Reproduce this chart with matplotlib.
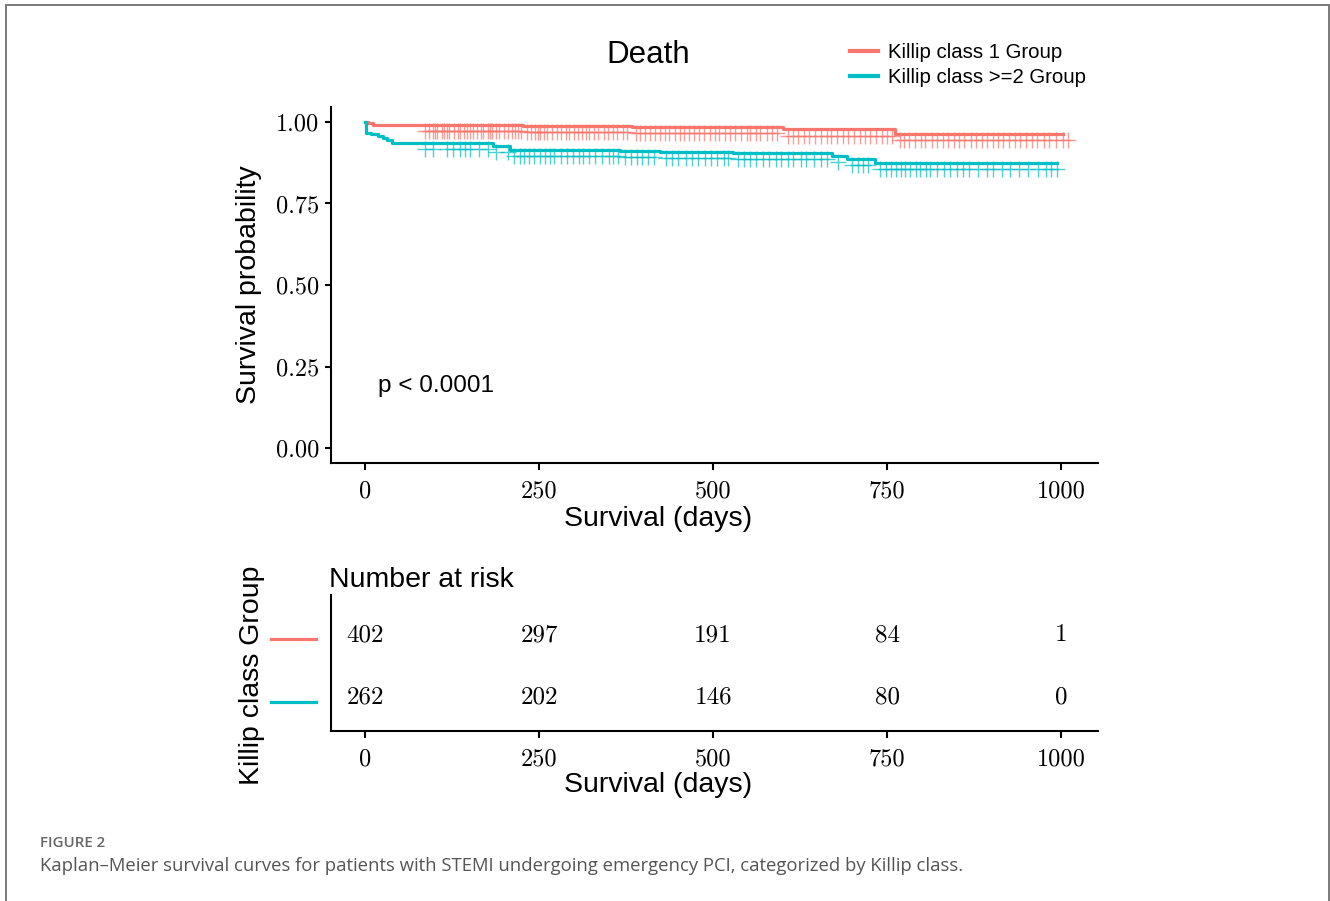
import numpy as np
import matplotlib
matplotlib.use("Agg")
import matplotlib.pyplot as plt
import matplotlib.transforms as mtransforms
from matplotlib.lines import Line2D
from matplotlib.patches import Rectangle

RED = "#F8766D"
TEAL = "#00BFC4"
SANS = "Liberation Sans"
SERIF = "cmr10"

# Kaplan-Meier steps
k1_times = [0, 4, 12, 227, 383, 601, 761, 1003]
k1_surv = [1.0, 0.996, 0.992, 0.988, 0.985, 0.977, 0.964, 0.964]
k2_times = [0, 2, 8, 18, 26, 32, 38, 184, 208, 366, 424, 529, 671, 692, 733, 994]
k2_surv = [1.0, 0.966, 0.962, 0.957, 0.952, 0.945, 0.935, 0.927, 0.915, 0.912,
           0.909, 0.905, 0.897, 0.887, 0.875, 0.875]

# censoring times (estimated from the + marks)
k1_cens = [86, 92, 97, 101, 104, 110, 113, 117, 121, 128, 133, 137, 142, 146, 150, 155,
           161, 166, 170, 176, 180, 183, 188, 192, 199, 205, 211, 216, 220, 224, 233,
           239, 244, 248, 251, 257, 262, 268, 275, 281, 288, 293, 300, 306, 311, 318,
           322, 329, 335, 343, 349, 356, 362, 370, 376, 389, 395, 402, 410, 417, 423,
           431, 437, 445, 452, 458, 465, 473, 480, 487, 495, 503, 509, 517, 524, 532,
           540, 548, 553, 561, 568, 577, 585, 592, 607, 615, 622, 630, 638, 646, 655,
           663, 670, 678, 687, 694, 703, 711, 718, 726, 734, 742, 750, 757, 768, 774,
           781, 790, 798, 805, 814, 822, 831, 838, 846, 853, 861, 870, 877, 886, 893,
           902, 910, 917, 925, 934, 941, 950, 958, 966, 975, 983, 992, 1003, 1010]
k2_cens = [86, 97, 118, 127, 136, 143, 150, 163, 176, 188, 205, 214, 222, 228, 236,
           243, 251, 258, 266, 272, 281, 290, 298, 307, 313, 322, 330, 341, 350, 356,
           364, 373, 382, 390, 398, 407, 415, 432, 441, 450, 461, 470, 478, 489, 497,
           506, 515, 522, 536, 545, 553, 562, 571, 580, 590, 598, 607, 615, 626, 634,
           645, 655, 663, 679, 700, 708, 716, 722, 740, 748, 755, 763, 770, 776, 783,
           791, 797, 806, 812, 821, 832, 840, 851, 859, 868, 880, 894, 902, 915, 926,
           940, 952, 967, 978, 986, 994]

risk_times = [0, 250, 500, 750, 1000]
risk_k1 = [402, 297, 191, 84, 1]
risk_k2 = [262, 202, 146, 80, 0]

group_labels = ["Killip class 1 Group", "Killip class >=2 Group"]
y_ticks = [0.0, 0.25, 0.5, 0.75, 1.0]
y_ticklabels = ["0.00", "0.25", "0.50", "0.75", "1.00"]
x_ticks = [0, 250, 500, 750, 1000]
x_ticklabels = ["0", "250", "500", "750", "1000"]


def surv_at(times, surv, t):
    idx = np.searchsorted(times, t, side="right") - 1
    return np.array(surv)[idx]


def style_axes(ax):
    for s in ["top", "right"]:
        ax.spines[s].set_visible(False)
    for s in ["left", "bottom"]:
        ax.spines[s].set_linewidth(1.5)
    ax.tick_params(width=1.5, length=4.5, pad=4, labelsize=17.5)
    ax.tick_params(axis="x", length=5, pad=7.5)
    ax.set_xticks(x_ticks)
    ax.set_xticklabels(x_ticklabels, fontname=SERIF)


fig = plt.figure(figsize=(13.3, 9.01), dpi=100)

# main survival panel
ax = fig.add_axes([331 / 1330, 1 - 463 / 901, 767 / 1330, 356 / 901])
style_axes(ax)
ax.set_xlim(-49, 1053)
ax.set_ylim(-0.046, 1.046)
ax.set_yticks(y_ticks)
ax.set_yticklabels(y_ticklabels, fontname=SERIF)

shift = mtransforms.ScaledTranslation(0, -4.5 / 72, fig.dpi_scale_trans)
for times, surv, cens, col in [(k1_times, k1_surv, k1_cens, RED),
                               (k2_times, k2_surv, k2_cens, TEAL)]:
    ax.plot(cens, surv_at(times, surv, cens), "+", color=col, alpha=0.7,
            markersize=11.5, markeredgewidth=1.0, transform=ax.transData + shift)
    ax.step(times, surv, where="post", color=col, lw=2.3, zorder=3)

ax.text(18, 0.19, "p < 0.0001", fontname=SANS, fontsize=17.5, va="center", ha="left")
fig.text(658 / 1330, 1 - 519 / 901, "Survival (days)", fontname=SANS, fontsize=20.5,
         ha="center", va="center")
fig.text(249 / 1330, 1 - 285 / 901, "Survival probability", fontname=SANS,
         fontsize=20.5, rotation=90, ha="center", va="center")
fig.text(648 / 1330, 1 - 55 / 901, "Death", fontname=SANS, fontsize=22.5,
         ha="center", va="center")

handles = [Line2D([], [], color=RED, lw=3), Line2D([], [], color=TEAL, lw=3)]
fig.legend(handles, group_labels, loc="center left",
           bbox_to_anchor=(840 / 1330, 1 - 65 / 901), frameon=False,
           prop={"family": SANS, "size": 14.7}, handlelength=1.35,
           handletextpad=0.5, labelspacing=0.3, borderpad=0)

# number at risk table
axr = fig.add_axes([331 / 1330, 1 - 731 / 901, 767 / 1330, 136 / 901])
style_axes(axr)
axr.set_xlim(-49, 1053)
axr.set_ylim(0.47, 2.64)
axr.set_yticks([])
for row, counts in [(2, risk_k1), (1, risk_k2)]:
    for t, n in zip(risk_times, counts):
        axr.text(t, row, str(n), fontname=SERIF, fontsize=18, ha="center", va="center")
blend = mtransforms.blended_transform_factory(axr.transAxes, axr.transData)
axr.plot([-0.078, -0.02], [1.94, 1.94], color=RED, lw=2.3, transform=blend, clip_on=False)
axr.plot([-0.078, -0.02], [0.94, 0.94], color=TEAL, lw=2.3, transform=blend, clip_on=False)
axr.set_title("Number at risk", loc="left", fontname=SANS, fontsize=20.5, pad=6, x=-0.003)
fig.text(658 / 1330, 1 - 785 / 901, "Survival (days)", fontname=SANS, fontsize=20.5,
         ha="center", va="center")
fig.text(252 / 1330, 1 - 675 / 901, "Killip class Group", fontname=SANS,
         fontsize=20.5, rotation=90, ha="center", va="center")

# caption
fig.text(40 / 1330, 1 - 843 / 901, "FIGURE 2", fontname="Open Sans", fontsize=10.8,
         fontweight="semibold", color="#666666", ha="left", va="center")
fig.text(40 / 1330, 1 - 866 / 901,
         "Kaplan\u2013Meier survival curves for patients with STEMI undergoing "
         "emergency PCI, categorized by Killip class.",
         fontname="Open Sans", fontsize=13.35, color="#555555", ha="left", va="center")

# page frame
fig.add_artist(Rectangle((6 / 1330, -0.02), 1323 / 1330, 1.02 - 5 / 901,
                         transform=fig.transFigure, fill=False, ec="#7a7a7a", lw=1.4))

fig.savefig("out.png", dpi=100)
